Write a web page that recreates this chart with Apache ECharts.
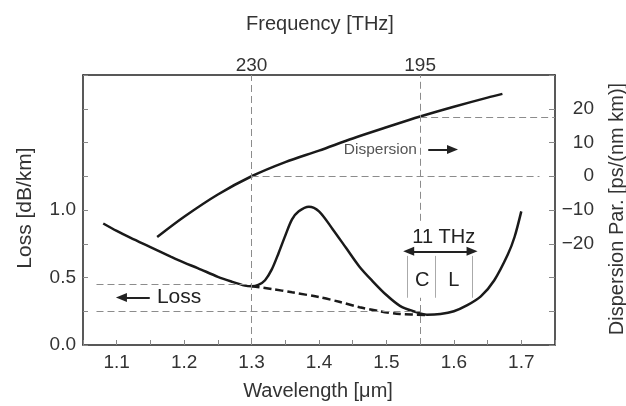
<!DOCTYPE html>
<html lang="en">
<head>
<meta charset="UTF-8">
<script src="https://cdn.jsdelivr.net/npm/echarts/dist/echarts.min.js"></script>
<title>Fibre loss and dispersion</title>
<style>
    html, body { margin: 0; padding: 0; background: #fff; }
    #chart { width: 626px; height: 406px; }
</style>
</head>
<body>
<div id="chart"></div>
<script>
// measured loss (solid) incl. OH peak
const lossWl = [1.08, 1.10, 1.12, 1.15, 1.18, 1.20, 1.22, 1.25, 1.27, 1.29, 1.30, 1.31, 1.32, 1.33, 1.34, 1.35, 1.36, 1.37, 1.385, 1.40, 1.42, 1.44, 1.46, 1.48, 1.50, 1.52, 1.54, 1.56, 1.58, 1.60, 1.62, 1.64, 1.66, 1.68, 1.69, 1.70];
const lossVal = [0.90, 0.845, 0.795, 0.725, 0.655, 0.61, 0.57, 0.505, 0.47, 0.44, 0.435, 0.445, 0.48, 0.56, 0.68, 0.81, 0.93, 0.99, 1.025, 0.99, 0.86, 0.72, 0.58, 0.47, 0.37, 0.29, 0.25, 0.225, 0.23, 0.25, 0.295, 0.36, 0.48, 0.67, 0.80, 0.99];

// loss without OH peak (dashed)
const dryWl = [1.30, 1.33, 1.36, 1.40, 1.43, 1.46, 1.49, 1.52, 1.56];
const dryVal = [0.435, 0.415, 0.39, 0.355, 0.32, 0.28, 0.25, 0.23, 0.222];

// dispersion parameter, right axis
const dispWl = [1.16, 1.20, 1.25, 1.30, 1.35, 1.40, 1.45, 1.50, 1.55, 1.60, 1.65, 1.672];
const dispVal = [-18, -12, -5.4, 0, 4.2, 7.6, 11.2, 14.5, 17.7, 20.6, 23.3, 24.4];

// top axis: frequency labels at given wavelengths
const freqWl = [1.3, 1.55];
const freqLabels = ['230', '195'];

// band edges (C / L) and guide levels
const bandEdges = [1.531, 1.572, 1.628];
const lossGuides = [0.45, 0.25];
const dispGuide = 17.5;

const FONT = 'Liberation Sans';
const chart = echarts.init(document.getElementById('chart'));

const zip = (xs, ys) => xs.map((x, i) => [x, ys[i]]);
const guide = { color: '#8c8c8c', width: 1, type: [7, 4] };
const band = { color: '#aaa', width: 1, type: 'solid' };
const arrow = { color: '#222', width: 2, type: 'solid' };

// guide lines; the 1.55 line is interrupted behind the C/L labels
const lossMarks = [
    [{ coord: [1.3, 0] }, { coord: [1.3, 2] }],
    [{ coord: [1.55, 0] }, { coord: [1.55, 0.35] }],
    [{ coord: [1.55, 0.92] }, { coord: [1.55, 2] }],
    [{ coord: [1.07, lossGuides[0]] }, { coord: [1.3, lossGuides[0]] }],
    [{ coord: [1.07, lossGuides[1]] }, { coord: [1.55, lossGuides[1]] }]
].map(d => { d[0].lineStyle = guide; return d; });

bandEdges.forEach(w => {
    lossMarks.push([{ coord: [w, 0.35], lineStyle: band }, { coord: [w, 0.66] }]);
});
// arrows
lossMarks.push([{ coord: [1.533, 0.694], lineStyle: arrow, symbol: 'triangle' }, { coord: [1.627, 0.694], symbol: 'triangle' }]);
lossMarks.push([{ coord: [1.149, 0.351], lineStyle: arrow, symbol: 'none' }, { coord: [1.107, 0.351], symbol: 'triangle' }]);
lossMarks.push([{ coord: [1.562, 1.448], lineStyle: arrow, symbol: 'none' }, { coord: [1.598, 1.448], symbol: 'triangle' }]);

const textMarks = [
    { name: '11 THz', coord: [1.585, 0.80], size: 20, color: '#222' },
    { name: 'C', coord: [1.553, 0.48], size: 20, color: '#222' },
    { name: 'L', coord: [1.60, 0.48], size: 20, color: '#222' },
    { name: 'Loss', coord: [1.1925, 0.351], size: 21, color: '#222' },
    { name: 'Dispersion', coord: [1.491, 1.448], size: 15.5, color: '#555' }
].map(t => ({
    name: t.name, coord: t.coord,
    label: { show: true, position: 'inside', formatter: '{b}', fontFamily: FONT, fontSize: t.size, color: t.color }
}));

const option = {
    animation: false,
    textStyle: { fontFamily: FONT },
    grid: { left: 83, right: 71, top: 75, bottom: 61 },
    xAxis: [
        {
            type: 'value', position: 'bottom', min: 1.05, max: 1.75, interval: 0.05,
            axisLine: { onZero: false, lineStyle: { color: '#222', width: 1.5 } },
            axisTick: { inside: true, length: 5, lineStyle: { color: '#888' } },
            splitLine: { show: false },
            axisLabel: {
                margin: 8, fontSize: 19, color: '#333',
                formatter: v => {
                    const k = Math.round(v * 100);
                    return (k % 10 === 0 && k >= 110 && k <= 170) ? (k / 100).toFixed(1) : '';
                }
            }
        },
        {
            type: 'value', position: 'top', min: 1.05, max: 1.75,
            axisLine: { show: true, onZero: false, lineStyle: { color: '#222', width: 1.5 } },
            axisTick: { show: false },
            splitLine: { show: false },
            axisLabel: {
                customValues: freqWl, margin: 0, fontSize: 19, color: '#333',
                formatter: v => {
                    const i = freqWl.findIndex(w => Math.abs(w - v) < 1e-6);
                    return i >= 0 ? freqLabels[i] : '';
                }
            }
        }
    ],
    yAxis: [
        {
            type: 'value', position: 'left', min: 0, max: 2, interval: 0.25,
            axisLine: { show: true, onZero: false, lineStyle: { color: '#222', width: 1.5 } },
            axisTick: { inside: true, length: 5, lineStyle: { color: '#888' } },
            splitLine: { show: false },
            axisLabel: {
                margin: 7, fontSize: 19, color: '#333',
                formatter: v => {
                    const k = Math.round(v * 100);
                    return (k % 50 === 0 && k <= 100) ? (k / 100).toFixed(1) : '';
                }
            }
        },
        {
            type: 'value', position: 'right', min: -50, max: 30, interval: 10,
            axisLine: { show: true, onZero: false, lineStyle: { color: '#222', width: 1.5 } },
            axisTick: { inside: true, length: 6, lineStyle: { color: '#888' } },
            splitLine: { show: false },
            axisLabel: {
                margin: 39, align: 'right', fontSize: 19, color: '#333',
                formatter: v => (v >= -20 && v <= 20) ? (v < 0 ? '\u2212' + (-v) : String(v)) : ''
            }
        }
    ],
    series: [
        {
            name: 'Loss', type: 'line', xAxisIndex: 0, yAxisIndex: 0,
            data: zip(lossWl, lossVal), smooth: 0.3, showSymbol: false,
            lineStyle: { color: '#1a1a1a', width: 2.5 },
            markLine: { silent: true, symbol: 'none', symbolSize: [9, 11], label: { show: false }, data: lossMarks },
            markPoint: { silent: true, symbol: 'circle', symbolSize: 0, data: textMarks }
        },
        {
            name: 'Loss (no OH)', type: 'line', xAxisIndex: 0, yAxisIndex: 0,
            data: zip(dryWl, dryVal), smooth: 0.3, showSymbol: false,
            lineStyle: { color: '#1a1a1a', width: 2.5, type: [8, 4] }
        },
        {
            name: 'Dispersion', type: 'line', xAxisIndex: 0, yAxisIndex: 1,
            data: zip(dispWl, dispVal), smooth: 0.3, showSymbol: false,
            lineStyle: { color: '#1a1a1a', width: 2.5 },
            markLine: {
                silent: true, symbol: 'none', label: { show: false },
                lineStyle: guide,
                data: [
                    [{ coord: [1.55, dispGuide] }, { coord: [1.75, dispGuide] }],
                    [{ coord: [1.3, 0] }, { coord: [1.727, 0] }]
                ]
            }
        }
    ],
    graphic: [
        { type: 'text', x: 320, y: 24, style: { text: 'Frequency [THz]', font: '20px ' + FONT, fill: '#333', textAlign: 'center', textVerticalAlign: 'middle', align: 'center', verticalAlign: 'middle' } },
        { type: 'text', x: 318, y: 391, style: { text: 'Wavelength [\u03bcm]', font: '20px ' + FONT, fill: '#333', textAlign: 'center', textVerticalAlign: 'middle', align: 'center', verticalAlign: 'middle' } },
        { type: 'text', x: 25, y: 208, rotation: Math.PI / 2, style: { text: 'Loss [dB/km]', font: '21px ' + FONT, fill: '#333', textAlign: 'center', textVerticalAlign: 'middle', align: 'center', verticalAlign: 'middle' } },
        { type: 'text', x: 617, y: 209, rotation: Math.PI / 2, style: { text: 'Dispersion Par. [ps/(nm km)]', font: '20px ' + FONT, fill: '#333', textAlign: 'center', textVerticalAlign: 'middle', align: 'center', verticalAlign: 'middle' } }
    ]
};

chart.setOption(option);
</script>
</body>
</html>
